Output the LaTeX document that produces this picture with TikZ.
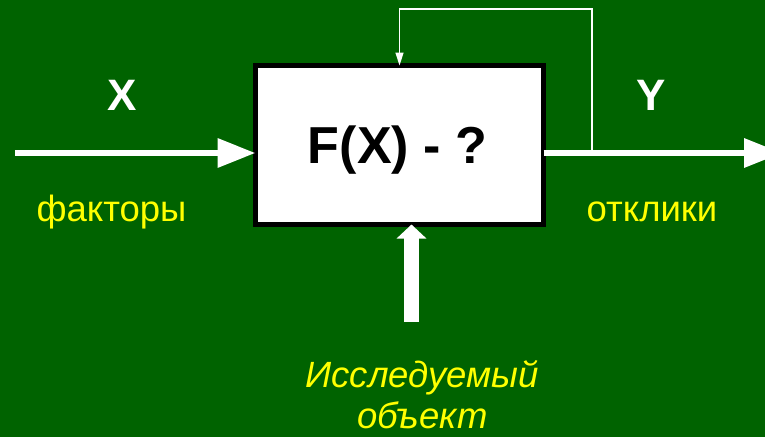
\documentclass[tikz,border=0pt]{standalone}
\usepackage{fontspec}
\setmainfont{Liberation Sans}
\usetikzlibrary{arrows.meta}
\definecolor{bg}{RGB}{0,99,0}
\definecolor{ylw}{RGB}{255,255,0}
\begin{document}
\begin{tikzpicture}[x=1pt,y=-1pt,
  box/.style={draw=black,fill=white,line width=5pt,minimum width=288pt,minimum height=159pt,outer sep=0pt,inner sep=0pt},
  fat/.style={draw=white,line width=6.5pt,-{Triangle[length=38pt,width=28pt]}},
  upar/.style={draw=white,line width=15pt,-{Triangle[length=14pt,width=29pt]}},
  thin/.style={draw=white,line width=1.5pt,-{Triangle[length=13pt,width=8pt]}},
  big/.style={font=\fontsize{44}{50}\selectfont\bfseries,text=white,inner sep=0pt,anchor=base},
  lbl/.style={font=\fontsize{36.5}{40}\selectfont,text=ylw,inner sep=0pt,anchor=base},
  ilbl/.style={font=\fontsize{36.5}{40}\selectfont\itshape,text=ylw,inner sep=0pt,anchor=base}]
\fill[bg] (0,0) rectangle (765,437);
\useasboundingbox (0,0) rectangle (765,437);
\node[box] (box) at (399.5,145) {};
\node[font=\fontsize{52}{58}\selectfont\bfseries,inner sep=0pt,anchor=base] (f) at (397.5,163) {F(X) - ?};
\coordinate (lstart) at (15,153);
\coordinate (lend) at (255.5,153);
\coordinate (rstart) at (543.5,153);
\coordinate (rend) at (782,153);
\coordinate (tap) at (592,153);
\coordinate (ftop) at (592,9);
\coordinate (bot) at (411.5,322);
\draw[fat] (lstart) -- (lend);
\draw[fat] (rstart) -- (rend);
\draw[upar] (bot) -- (bot|-box.south);
\draw[thin] (tap) -- (ftop) -| (box.north);
\node[big] (x) at (122,110) {X};
\node[big] (y) at (651,110) {Y};
\node[lbl] (fak) at (111.5,221) {факторы};
\node[lbl] (otk) at (652,221) {отклики};
\node[ilbl] (is1) at (422,387) {Исследуемый};
\node[ilbl] (is2) at (422.5,428) {объект};
\end{tikzpicture}
\end{document}
